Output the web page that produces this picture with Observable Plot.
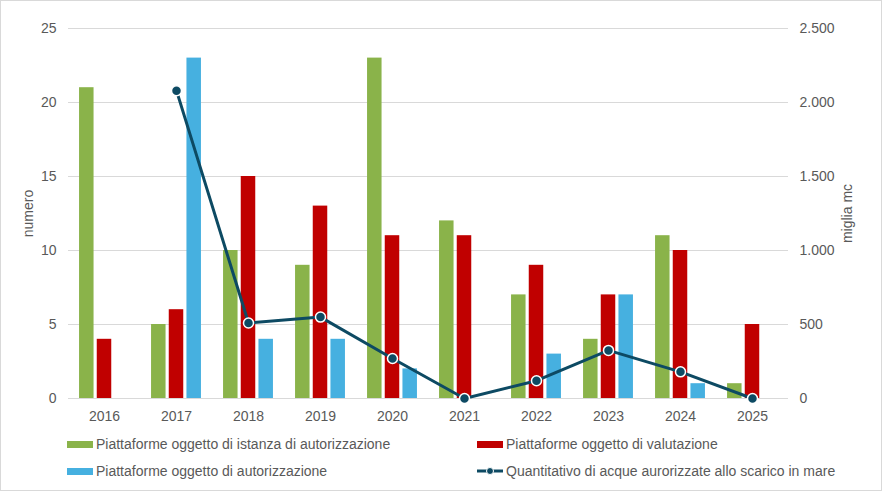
<!DOCTYPE html>
<html>
<head>
<meta charset="utf-8">
<script src="https://cdn.jsdelivr.net/npm/d3@7"></script>
<script src="https://cdn.jsdelivr.net/npm/@observablehq/plot@0.6"></script>
<style>
  html, body { margin: 0; padding: 0; background: #fff; }
  #wrap { position: relative; width: 882px; height: 491px; overflow: hidden; font-family: "Liberation Sans", Arial, sans-serif; color: #595959; }
  #chart { position: absolute; left: 0; top: 0; }
  #border { position: absolute; left: 0; top: 0; width: 882px; height: 491px; box-sizing: border-box; border: 1px solid #d9d9d9; pointer-events: none; }
  .leg { position: absolute; font-size: 14px; line-height: 27px; white-space: nowrap; display: flex; align-items: center; }
  .sw { width: 26px; height: 7px; margin-right: 3px; }
</style>
</head>
<body>
<div id="wrap">
  <div id="chart"></div>
  <div id="legend"></div>
  <div id="border"></div>
</div>
<script>
const years = ["2016","2017","2018","2019","2020","2021","2022","2023","2024","2025"];
const istanza = [21, 5, 10, 9, 23, 12, 7, 4, 11, 1];
const valutazione = [4, 6, 15, 13, 11, 11, 9, 7, 10, 5];
const autorizzazione = [null, 23, 4, 4, 2, null, 3, 7, 1, null];
const acque = [null, 2080, 510, 550, 270, 0, 120, 325, 180, 0];
const leftTicks = [0, 5, 10, 15, 20, 25];
const seriesNames = [
  "Piattaforme oggetto di istanza di autorizzazione",
  "Piattaforme oggetto di valutazione",
  "Piattaforme oggetto di autorizzazione",
  "Quantitativo di acque aurorizzate allo scarico in mare"
];
const colors = ["#8AB34A", "#C00000", "#46B0E0", "#0D4A63"];

const rows = years.map((y, i) => ({year: y, g: istanza[i], r: valutazione[i], b: autorizzazione[i], w: acque[i]}));
const lineRows = rows.filter(d => d.w != null);
const ratio = 100; // 2500 miglia mc <-> 25 numero
const itFmt = d3.formatLocale({decimal: ",", thousands: ".", grouping: [3], currency: ["", "€"]}).format(",");

const inset = 28.75;
const step = 17.7;
const font = "Liberation Sans, Arial, sans-serif";

const plot = Plot.plot({
  width: 882,
  height: 430,
  marginLeft: 68,
  marginRight: 94,
  marginTop: 28,
  marginBottom: 32,
  style: {fontFamily: font, fontSize: "14px", color: "#595959", background: "transparent"},
  x: {type: "band", domain: years, padding: 0, label: null},
  y: {domain: [0, 25], label: null},
  marks: [
    Plot.gridY(leftTicks, {stroke: "#d9d9d9", strokeOpacity: 1, strokeWidth: 1}),
    Plot.barY(rows.filter(d => d.g != null), {x: "year", y: "g", fill: colors[0], insetLeft: inset, insetRight: inset, dx: -step}),
    Plot.barY(rows.filter(d => d.r != null), {x: "year", y: "r", fill: colors[1], insetLeft: inset, insetRight: inset}),
    Plot.barY(rows.filter(d => d.b != null), {x: "year", y: "b", fill: colors[2], insetLeft: inset, insetRight: inset, dx: step}),
    Plot.line(lineRows, {x: "year", y: d => d.w / ratio, stroke: colors[3], strokeWidth: 3, curve: "linear"}),
    Plot.dot(lineRows, {x: "year", y: d => d.w / ratio, r: 5, fill: colors[3], stroke: "#fff", strokeWidth: 1.5}),
    Plot.axisX({tickSize: 0, tickPadding: 13, label: null, fill: "#595959"}),
    Plot.axisY(leftTicks, {anchor: "left", tickSize: 0, tickPadding: 12, label: null, fill: "#595959"}),
    Plot.axisY(leftTicks, {anchor: "right", tickSize: 0, tickPadding: 11, label: null, fill: "#595959", tickFormat: d => itFmt(d * ratio)}),
    Plot.text(["numero"], {frameAnchor: "left", textAnchor: "middle", lineAnchor: "middle", dx: -40, rotate: -90, fill: "#595959", fontSize: 14}),
    Plot.text(["miglia mc"], {frameAnchor: "right", textAnchor: "middle", lineAnchor: "middle", dx: 59, rotate: -90, fill: "#595959", fontSize: 14})
  ]
});
document.getElementById("chart").appendChild(plot);

// legend
const legend = document.getElementById("legend");
const pos = [[67, 430.5], [477, 430.5], [67, 457.5], [477, 457.5]];
seriesNames.forEach((name, i) => {
  const item = document.createElement("div");
  item.className = "leg";
  item.style.left = pos[i][0] + "px";
  item.style.top = pos[i][1] + "px";
  let sw;
  if (i < 3) {
    sw = `<div class="sw" style="background:${colors[i]}"></div>`;
  } else {
    sw = `<svg width="26" height="10" style="margin-right:3px"><line x1="0" x2="26" y1="5" y2="5" stroke="${colors[3]}" stroke-width="3"/><circle cx="13" cy="5" r="3.5" fill="${colors[3]}" stroke="#fff" stroke-width="1"/></svg>`;
  }
  item.innerHTML = sw + `<span>${name}</span>`;
  legend.appendChild(item);
});
</script>
</body>
</html>
